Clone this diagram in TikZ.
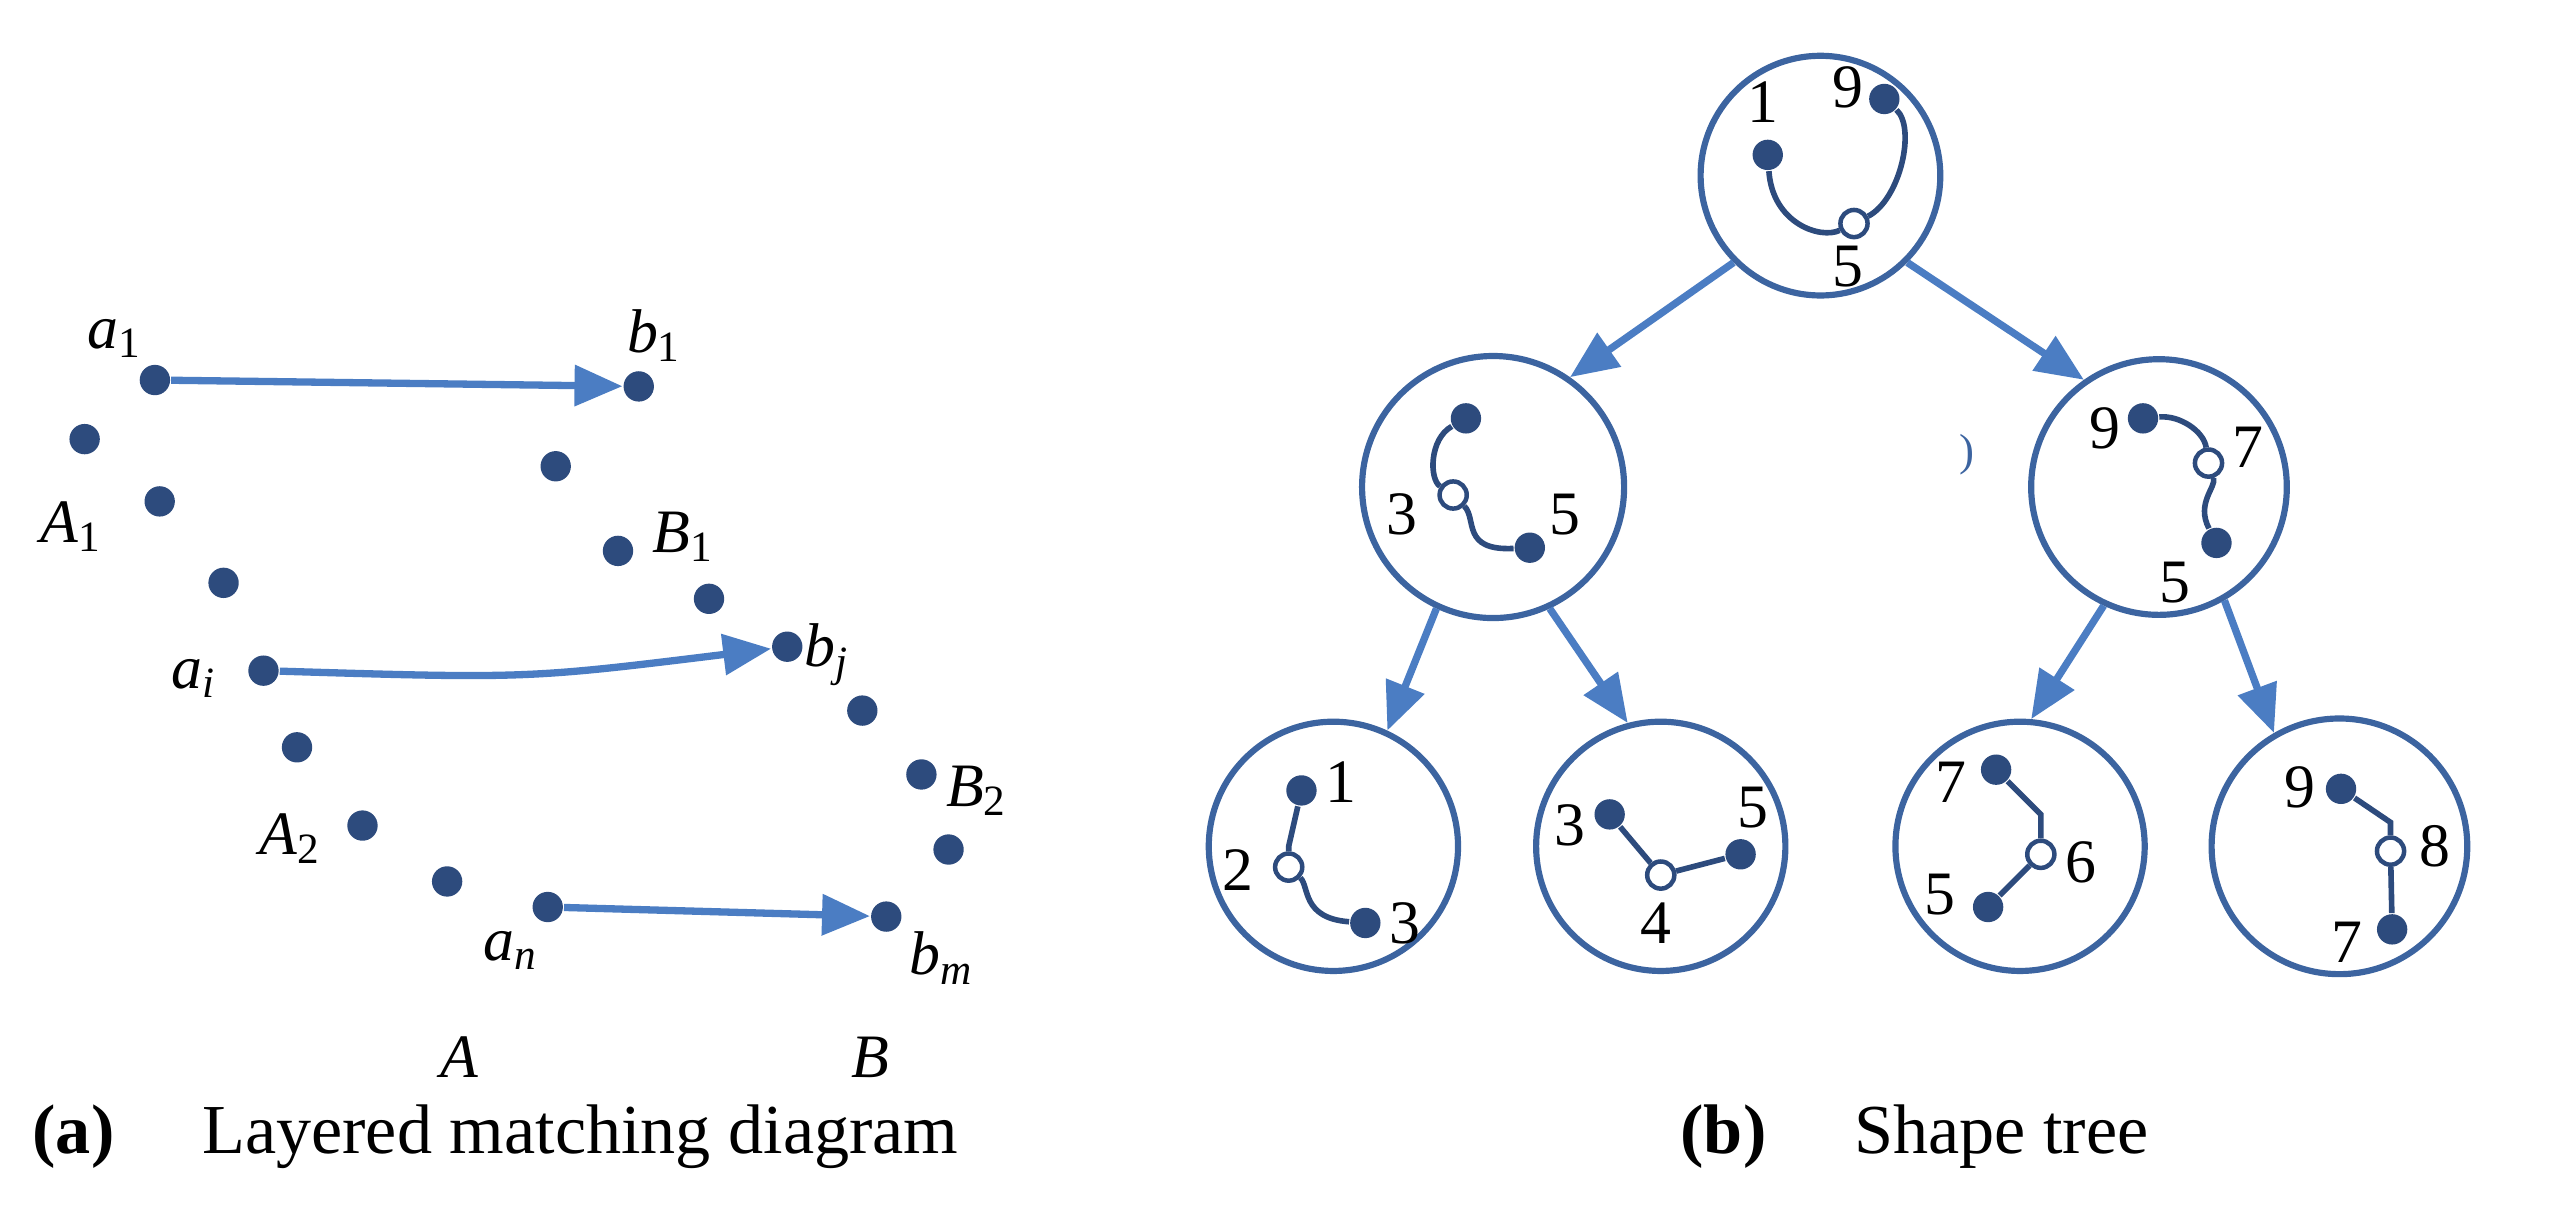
\documentclass[tikz,border=0pt]{standalone}
\usepackage{fontspec}
\setmainfont{Liberation Serif}
\usetikzlibrary{arrows.meta}
\definecolor{dotblue}{RGB}{45,75,125}
\definecolor{arrblue}{RGB}{75,125,195}
\definecolor{ringblue}{RGB}{60,100,160}
\newcommand{\sym}[2]{\textit{#1}\textsubscript{#2}}
\tikzset{
  pt/.style={circle,fill=dotblue,inner sep=0pt,minimum size=0.19cm},
  op/.style={circle,draw=dotblue,fill=white,thick,inner sep=0pt,minimum size=0.17cm},
  lab/.style={font=\fontsize{11}{13}\selectfont},
  ring/.style={circle,draw=ringblue,line width=1.1pt,inner sep=0pt},
  link/.style={arrblue,line width=1.3pt,-{Triangle[length=0.3cm,width=0.25cm]}},
  curve/.style={dotblue,line width=1pt}
}
\begin{document}
\begin{tikzpicture}[x=0.01cm,y=-0.01cm]
    \useasboundingbox (0,0) rectangle (1600,768);
    % left: layered matching
    \node[pt] (a1) at (97,238) {};
    \node[pt] (b1) at (400,242) {};
    \node[pt] (p1) at (53,275) {};
    \node[pt] (q1) at (348,292) {};
    \node[pt] (A1) at (100,314) {};
    \node[pt] (B1) at (387,345) {};
    \node[pt] (p2) at (140,365) {};
    \node[pt] (q2) at (444,375) {};
    \node[pt] (ai) at (165,420) {};
    \node[pt] (bj) at (493,405) {};
    \node[pt] (p3) at (186,468) {};
    \node[pt] (q3) at (540,445) {};
    \node[pt] (B2) at (577,485) {};
    \node[pt] (A2) at (227,517) {};
    \node[pt] (q4) at (594,532) {};
    \node[pt] (p4) at (280,552) {};
    \node[pt] (an) at (343,568) {};
    \node[pt] (bm) at (555,574) {};
    \node[lab] at (72,212) {\sym{a}{1}};
    \node[lab] at (410,210) {\sym{b}{1}};
    \node[lab] at (45,330) {\sym{A}{1}};
    \node[lab] at (428,336) {\sym{B}{1}};
    \node[lab] at (122,425) {\sym{a}{\textit{i}}};
    \node[lab] at (518,410) {\sym{b}{\textit{j}}};
    \node[lab] at (612,495) {\sym{B}{2}};
    \node[lab] at (182,525) {\sym{A}{2}};
    \node[lab] at (320,595) {\sym{a}{\textit{n}}};
    \node[lab] at (590,600) {\sym{b}{\textit{m}}};
    \node[lab] at (288,662) {\textit{A}};
    \node[lab] at (545,662) {\textit{B}};
    \draw[link] (a1) -- (b1);
    \draw[link] (ai) .. controls (330,425) .. (bj);
    \draw[link] (an) -- (bm);
    \node[font=\fontsize{12.5}{15}\selectfont,anchor=west] at (8,712) {\textbf{(a)}\quad\ Layered matching diagram};
    % right: shape tree
    \node[ring,minimum size=1.5cm] (root) at (1140,110) {};
    \node[ring,minimum size=1.64cm] (L) at (935,305) {};
    \node[ring,minimum size=1.6cm] (R) at (1352,305) {};
    \node[ring,minimum size=1.56cm] (LL) at (835,530) {};
    \node[ring,minimum size=1.56cm] (LR) at (1040,530) {};
    \node[ring,minimum size=1.56cm] (RL) at (1265,530) {};
    \node[ring,minimum size=1.6cm] (RR) at (1465,530) {};
    \draw[link] (root.225) -- (L.55);
    \draw[link] (root.315) -- (R.125);
    \draw[link] (L.245) -- (LL.65);
    \draw[link] (L.295) -- (LR.105);
    \draw[link] (R.245) -- (RL.85);
    \draw[link] (R.300) -- (RR.120);
    \node[font=\fontsize{8}{9}\selectfont,ringblue] at (1232,285) {)};
    % root shape
    \node[pt] (r1) at (1107,97) {};
    \node[pt] (r9) at (1180,62) {};
    \node[op] (r5) at (1161,140) {};
    \draw[curve] (r1) .. controls (1110,140) and (1140,150) .. (r5);
    \draw[curve] (r5) .. controls (1190,125) and (1200,80) .. (r9);
    \node[lab] at (1104,64) {1};
    \node[lab] at (1157,55) {9};
    \node[lab] at (1157,167) {5};
    % left shape
    \node[pt] (l1) at (918,262) {};
    \node[op] (l3) at (910,310) {};
    \node[pt] (l5) at (958,343) {};
    \draw[curve] (l1) .. controls (895,275) and (895,300) .. (l3);
    \draw[curve] (l3) .. controls (925,325) and (915,345) .. (l5);
    \node[lab] at (878,322) {3};
    \node[lab] at (980,322) {5};
    % right shape
    \node[pt] (s9) at (1342,262) {};
    \node[op] (s7) at (1383,290) {};
    \node[pt] (s5) at (1388,340) {};
    \draw[curve] (s9) .. controls (1365,260) and (1380,270) .. (s7);
    \draw[curve] (s7) .. controls (1388,305) and (1375,315) .. (s5);
    \node[lab] at (1318,268) {9};
    \node[lab] at (1408,280) {7};
    \node[lab] at (1362,365) {5};
    % leaf shapes
    \node[pt] (u1) at (815,495) {};
    \node[op] (u2) at (807,543) {};
    \node[pt] (u3) at (855,578) {};
    \draw[curve] (u1) -- (807,530) -- (u2);
    \draw[curve] (u2) .. controls (820,555) and (815,575) .. (u3);
    \node[lab] at (840,490) {1};
    \node[lab] at (775,545) {2};
    \node[lab] at (880,578) {3};
    \node[pt] (v3) at (1008,510) {};
    \node[op] (v4) at (1040,548) {};
    \node[pt] (v5) at (1090,535) {};
    \draw[curve] (v3) -- (v4) -- (v5);
    \node[lab] at (983,517) {3};
    \node[lab] at (1037,578) {4};
    \node[lab] at (1098,506) {5};
    \node[pt] (w7) at (1250,482) {};
    \node[op] (w6) at (1278,535) {};
    \node[pt] (w5) at (1245,568) {};
    \draw[curve] (w7) -- (1278,510) -- (w6) -- (w5);
    \node[lab] at (1222,490) {7};
    \node[lab] at (1303,540) {6};
    \node[lab] at (1215,560) {5};
    \node[pt] (x9) at (1466,494) {};
    \node[op] (x8) at (1497,533) {};
    \node[pt] (x7) at (1498,582) {};
    \draw[curve] (x9) -- (1497,515) -- (x8) -- (x7);
    \node[lab] at (1440,493) {9};
    \node[lab] at (1525,530) {8};
    \node[lab] at (1470,590) {7};
    \node[font=\fontsize{12.5}{15}\selectfont,anchor=west] at (1040,712) {\textbf{(b)}\quad\ Shape tree};
\end{tikzpicture}
\end{document}
